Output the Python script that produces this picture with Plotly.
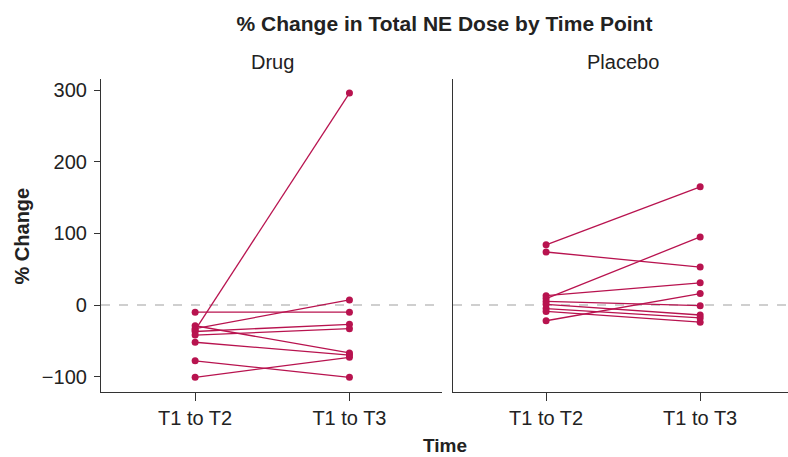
import plotly.graph_objects as go

categories = ["T1 to T2", "T1 to T3"]

# Each subject: [T1 to T2, T1 to T3] percent change
drug_t12 = [-10, -29, -33, -35, -37, -42, -52, -78, -101]
drug_t13 = [-10, -67, 7, 296, -27, -33, -70, -101, -73]

placebo_t12 = [84, 74, 13, 9, 5, 1, -5, -9, -22]
placebo_t13 = [165, 53, 31, 95, -1, -14, -18, -24, 16]

y_ticks = [-100, 0, 100, 200, 300]
tick_labels = ["\u2212100", "0", "100", "200", "300"]

color = "#B8134F"
font_family = "Liberation Sans, Arial, sans-serif"
text_color = "#222222"
W, H = 788, 457

fig = go.Figure()

for a, b in zip(drug_t12, drug_t13):
    fig.add_trace(go.Scatter(x=categories, y=[a, b], mode="lines+markers",
                             line=dict(color=color, width=1.3),
                             marker=dict(color=color, size=7),
                             xaxis="x", yaxis="y", showlegend=False, hoverinfo="y"))
for a, b in zip(placebo_t12, placebo_t13):
    fig.add_trace(go.Scatter(x=categories, y=[a, b], mode="lines+markers",
                             line=dict(color=color, width=1.3),
                             marker=dict(color=color, size=7),
                             xaxis="x2", yaxis="y2", showlegend=False, hoverinfo="y"))

axis_common = dict(showline=True, linecolor="#333333", linewidth=1.2,
                   showgrid=False, zeroline=False,
                   tickfont=dict(family=font_family, size=20, color=text_color))

fig.update_layout(
    width=W, height=H,
    margin=dict(l=101, r=0, t=79, b=65),
    paper_bgcolor="white", plot_bgcolor="white",
    font=dict(family=font_family, color=text_color),
    title=dict(text="<b>% Change in Total NE Dose by Time Point</b>",
               x=0.5, xref="paper", xanchor="center",
               yref="container", y=1 - 24 / H, yanchor="middle",
               font=dict(size=21, family=font_family, color=text_color)),
    xaxis=dict(domain=[0, 0.4964], type="category", range=[-0.61, 1.60],
               ticks="outside", ticklen=8, tickcolor="#333333", **axis_common),
    xaxis2=dict(domain=[0.5124, 1.0], type="category", range=[-0.604, 1.57],
                ticks="outside", ticklen=8, tickcolor="#333333", **axis_common),
    yaxis=dict(anchor="x", range=[-121.5, 315.6], tickvals=y_ticks, ticktext=tick_labels,
               ticks="outside", ticklen=6, tickcolor="#333333", ticklabelstandoff=3,
               **axis_common),
    yaxis2=dict(anchor="x2", matches="y", range=[-121.5, 315.6], showticklabels=False,
                ticks="", **axis_common),
)

# reference dashed lines at 0 in each panel
for xr, yr in [("x domain", "y"), ("x2 domain", "y2")]:
    fig.add_shape(type="line", xref=xr, yref=yr, x0=0, x1=1, y0=0, y1=0,
                  line=dict(color="#A0A0A0", width=1.2, dash="dash"), layer="below")

annotations = [
    dict(text="Drug", xref="x", yref="paper", x=0.5, y=1.0, yshift=17,
         xanchor="center", yanchor="middle",
         showarrow=False, font=dict(size=20, family=font_family, color=text_color)),
    dict(text="Placebo", xref="x2", yref="paper", x=0.5, y=1.0, yshift=17,
         xanchor="center", yanchor="middle",
         showarrow=False, font=dict(size=20, family=font_family, color=text_color)),
    dict(text="<b>Time</b>", xref="paper", yref="paper", x=0.5, y=0, yshift=-53,
         xanchor="center", yanchor="middle",
         showarrow=False, font=dict(size=19, family=font_family, color=text_color)),
    dict(text="<b>% Change</b>", xref="paper", yref="paper", x=-0.115, y=0.5,
         xanchor="center", yanchor="middle",
         textangle=-90, showarrow=False,
         font=dict(size=20, family=font_family, color=text_color)),
]
fig.update_layout(annotations=annotations)

fig.write_html("out.html", config={"displayModeBar": False},
               post_script="document.body.style.margin='0';document.body.style.overflow='hidden';")
